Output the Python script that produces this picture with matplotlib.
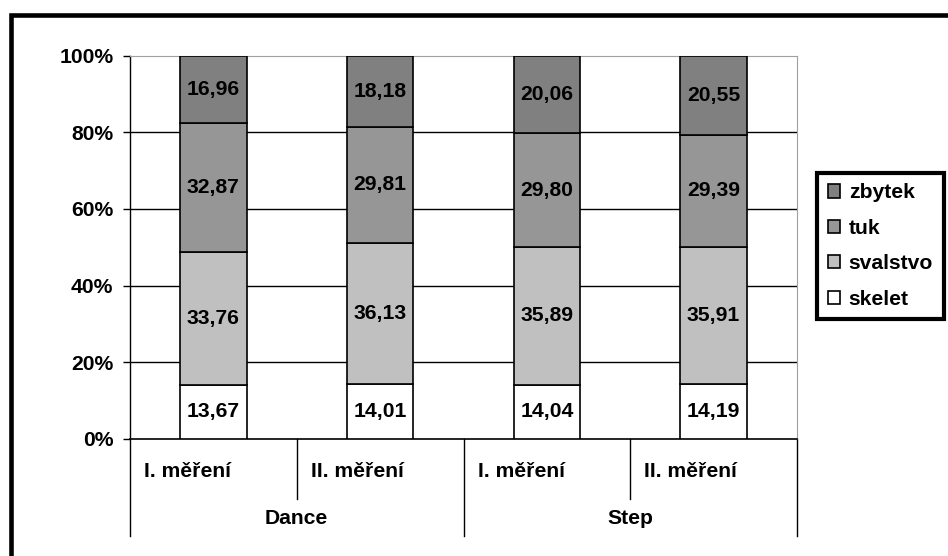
import matplotlib.pyplot as plt
import matplotlib.patches as mpatches
import numpy as np

plt.rcParams['font.family'] = ['Liberation Sans', 'DejaVu Sans']
plt.rcParams['font.weight'] = 'bold'

# složení těla v jednotlivých měřeních
groups = ['Dance', 'Step']
measurements = ['I. měření', 'II. měření', 'I. měření', 'II. měření']
skelet = [13.67, 14.01, 14.04, 14.19]
svalstvo = [33.76, 36.13, 35.89, 35.91]
tuk = [32.87, 29.81, 29.80, 29.39]
zbytek = [16.96, 18.18, 20.06, 20.55]

series = [('skelet', skelet, '#ffffff'),
          ('svalstvo', svalstvo, '#c0c0c0'),
          ('tuk', tuk, '#969696'),
          ('zbytek', zbytek, '#808080')]

fs = 15.2

fig = plt.figure(figsize=(9.48, 5.56), dpi=100)
ax = fig.add_axes([130 / 948, 1 - 438.5 / 556, 667 / 948, 382.5 / 556])

# přepočet na 100 %
totals = np.sum([s[1] for s in series], axis=0)
x = np.arange(len(measurements))
bottom = np.zeros(len(measurements))
handles = []
for name, vals, col in series:
    share = np.array(vals) / totals * 100
    bars = ax.bar(x, share, width=0.4, bottom=bottom, color=col,
                  edgecolor='black', linewidth=1.2, label=name, zorder=3)
    for xi, b, s, v in zip(x, bottom, share, vals):
        ax.text(xi, b + s / 2, f'{v:.2f}'.replace('.', ','), ha='center',
                va='center', fontsize=fs, fontweight='bold', zorder=4)
    bottom += share
    handles.append(bars)

ax.set_xlim(-0.5, 3.5)
ax.set_ylim(0, 100)
ax.set_yticks(range(0, 101, 20))
ax.set_yticklabels([f'{v}%' for v in range(0, 101, 20)], fontsize=fs,
                   fontweight='bold')
ax.tick_params(axis='y', length=5, width=1, pad=7)
ax.set_xticks([])
for v in range(20, 100, 20):
    ax.axhline(v, color='black', linewidth=1, zorder=1)
ax.spines['top'].set_color('#a0a0a0')
ax.spines['right'].set_color('#a0a0a0')
ax.spines['left'].set_linewidth(1)
ax.spines['bottom'].set_linewidth(1.2)

# dvouúrovňové popisky osy x
h_ax = 382.5
for i in range(5):
    depth = 97 if i % 2 == 0 else 60
    ax.plot([i / 4, i / 4], [0, -depth / h_ax], transform=ax.transAxes,
            color='black', linewidth=1, clip_on=False)
for i, m in enumerate(measurements):
    ax.text(i / 4 + 14 / 667, -33 / h_ax, m, transform=ax.transAxes,
            ha='left', va='center', fontsize=fs, fontweight='bold')
for j, g in enumerate(groups):
    ax.text(0.25 + j * 0.5, -80 / h_ax, g, transform=ax.transAxes,
            ha='center', va='center', fontsize=fs, fontweight='bold')

leg = fig.legend(handles[::-1], [s[0] for s in series][::-1],
                 loc='center left', bbox_to_anchor=(817 / 948, 1 - 246 / 556),
                 fontsize=fs, frameon=True, fancybox=False, framealpha=1,
                 edgecolor='black', handlelength=0.6, handleheight=0.6,
                 handletextpad=0.4, labelspacing=0.78, borderpad=0.5,
                 borderaxespad=0)
leg.get_frame().set_linewidth(3)

# rámeček kolem celého grafu
fig.patches.append(mpatches.Rectangle((10.5 / 948, -0.1), 1.2, 1.0736,
                                      transform=fig.transFigure, fill=False,
                                      edgecolor='black', linewidth=3.3))

fig.savefig('out.png', dpi=100)
